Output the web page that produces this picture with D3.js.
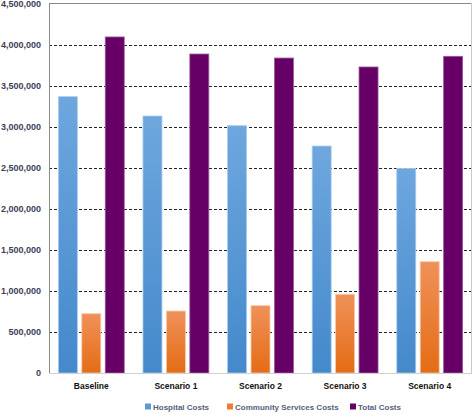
<!DOCTYPE html>
<html><head><meta charset="utf-8">
<script src="https://cdn.jsdelivr.net/npm/d3@7"></script>
<style>body{margin:0;background:#fff}svg{display:block}</style>
</head><body>
<svg id="c" width="473" height="415"></svg>
<script>
const categories = ["Baseline","Scenario 1","Scenario 2","Scenario 3","Scenario 4"];
const seriesNames = ["Hospital Costs","Community Services Costs","Total Costs"];
const hospital = [3370000,3134000,3016000,2768000,2495000];
const community = [723000,756000,821000,960000,1357000];
const total = [4098000,3890000,3841000,3732000,3862000];
const yTicks = [0,500000,1000000,1500000,2000000,2500000,3000000,3500000,4000000,4500000];

const svg = d3.select("#c");
const L = 49, R = 472, T = 4, B = 373;
const x0 = d3.scaleBand().domain(categories).range([L, R]).padding(0);
const x1 = d3.scaleBand().domain(seriesNames).range([0, x0.bandwidth()]).paddingInner(0.19).paddingOuter(0.4);
const y = d3.scaleLinear().domain([0, 4500000]).range([B, T]);

const defs = svg.append("defs");
function grad(id, c1, c2){
  const g = defs.append("linearGradient").attr("id", id).attr("x1",0).attr("y1",0).attr("x2",0).attr("y2",1);
  g.append("stop").attr("offset","0%").attr("stop-color",c1);
  g.append("stop").attr("offset","100%").attr("stop-color",c2);
}
grad("gBlue", "#6ea7de", "#4489cb");
grad("gOrange", "#f0915a", "#e46c14");
grad("gPurple", "#660066", "#660066");
const fills = {"Hospital Costs":"url(#gBlue)","Community Services Costs":"url(#gOrange)","Total Costs":"url(#gPurple)"};
const strokes = {"Hospital Costs":"#a9ccee","Community Services Costs":"#f7c9a8","Total Costs":"#9a5a9a"};
const legendColors = {"Hospital Costs":"#5b9bd5","Community Services Costs":"#ed7d31","Total Costs":"#660066"};

// gridlines
const grid = svg.append("g").attr("class","grid");
grid.selectAll("line").data(yTicks.filter(d=>d>0 && d<4500000)).join("line")
  .attr("x1", L).attr("x2", R).attr("y1", d=>Math.round(y(d))+0.5).attr("y2", d=>Math.round(y(d))+0.5)
  .attr("stroke","#222").attr("stroke-width",1).attr("stroke-dasharray","3,2");

// plot border
svg.append("line").attr("x1",L).attr("x2",R).attr("y1",Math.round(y(4500000))-0.5).attr("y2",Math.round(y(4500000))-0.5).attr("stroke","#8a8a8a");
svg.append("line").attr("x1",R-0.5).attr("x2",R-0.5).attr("y1",T-1).attr("y2",B).attr("stroke","#c8c8c8");

// bars
const data = categories.map((c,i)=>({cat:c, vals:[
  {s:seriesNames[0], v:hospital[i]},
  {s:seriesNames[1], v:community[i]},
  {s:seriesNames[2], v:total[i]}]}));
const groups = svg.append("g").selectAll("g").data(data).join("g")
  .attr("transform", d=>`translate(${x0(d.cat)},0)`);
groups.selectAll("rect").data(d=>d.vals).join("rect")
  .attr("x", d=>x1(d.s)).attr("width", x1.bandwidth())
  .attr("y", d=>y(d.v)).attr("height", d=>B - y(d.v))
  .attr("fill", d=>fills[d.s]).attr("stroke", d=>strokes[d.s]).attr("stroke-width",0.8);

// axes
const yAxis = svg.append("g").attr("transform",`translate(${L},0)`)
  .call(d3.axisLeft(y).tickValues(yTicks).tickFormat(d3.format(",")).tickSize(0).tickPadding(8));
yAxis.select(".domain").attr("stroke","#8a8a8a").attr("d",`M0.5,${T-1}V${B}`);
yAxis.selectAll("text").attr("font-family","Liberation Sans, Arial, sans-serif").attr("font-size","9px")
  .attr("font-weight","bold").attr("fill","#3c4257");

const xAxis = svg.append("g").attr("transform",`translate(0,${B})`)
  .call(d3.axisBottom(x0).tickSize(0).tickPadding(10));
xAxis.select(".domain").attr("stroke","#d0d0d0").attr("d",`M${L},0.5H${R}`);
xAxis.selectAll("text").attr("font-family","Liberation Sans, Arial, sans-serif").attr("font-size","8.5px")
  .attr("font-weight","bold").attr("fill","#111");

// legend
const legendX = [145, 227, 350];
const lg = svg.append("g").selectAll("g").data(seriesNames).join("g")
  .attr("transform",(d,i)=>`translate(${legendX[i]},407)`);
lg.append("rect").attr("x",0).attr("y",-3.5).attr("width",6).attr("height",6).attr("fill",d=>legendColors[d]);
lg.append("text").attr("x",8).attr("y",0).attr("dy","0.35em").text(d=>d)
  .attr("font-family","Liberation Sans, Arial, sans-serif").attr("font-size","8px")
  .attr("font-weight","bold").attr("fill","#56607a");
</script>
</body></html>
